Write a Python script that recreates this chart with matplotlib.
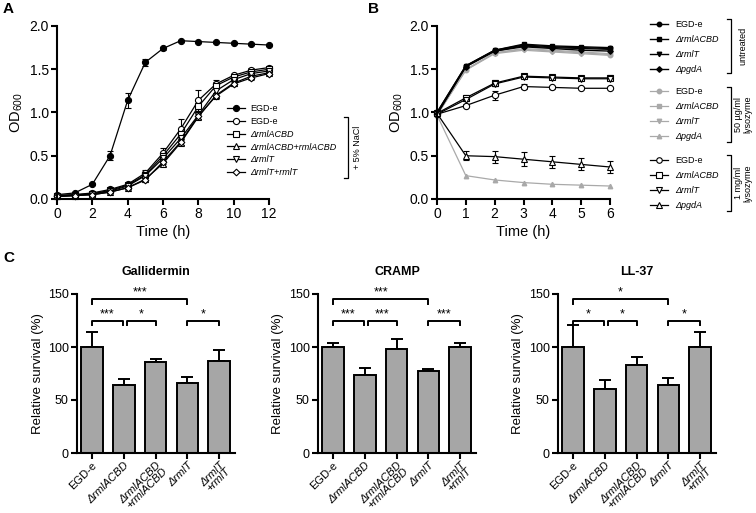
import matplotlib
matplotlib.use("Agg")
import matplotlib.pyplot as plt
from matplotlib.lines import Line2D
import numpy as np

plt.rcParams['font.family'] = ['Liberation Sans', 'DejaVu Sans']
plt.rcParams['mathtext.fontset'] = 'custom'
plt.rcParams['mathtext.rm'] = 'Liberation Sans'
plt.rcParams['mathtext.it'] = 'Liberation Sans:italic'
plt.rcParams['mathtext.bf'] = 'Liberation Sans:bold'

# ---------------- Data ----------------
# Panel A: growth curves
time_a = [0, 1, 2, 3, 4, 5, 6, 7, 8, 9, 10, 11, 12]
a_labels = ['EGD-e', 'EGD-e', 'ΔrmlACBD', 'ΔrmlACBD+rmlACBD', 'ΔrmlT', 'ΔrmlT+rmlT']
a_egde = [0.05, 0.07, 0.17, 0.50, 1.14, 1.58, 1.74, 1.83, 1.82, 1.81, 1.80, 1.79, 1.78]
a_egde_err = [0.0, 0.0, 0.01, 0.05, 0.09, 0.04, 0.02, 0.01, 0.01, 0.01, 0.01, 0.01, 0.01]
a_nacl_egde = [0.04, 0.05, 0.07, 0.11, 0.17, 0.30, 0.53, 0.81, 1.14, 1.33, 1.43, 1.49, 1.52]
a_nacl_egde_err = [0.0, 0.0, 0.0, 0.01, 0.02, 0.03, 0.06, 0.12, 0.12, 0.05, 0.02, 0.02, 0.02]
a_nacl_acbd = [0.04, 0.05, 0.06, 0.10, 0.16, 0.28, 0.50, 0.75, 1.07, 1.31, 1.41, 1.47, 1.50]
a_nacl_acbd_err = [0.0, 0.0, 0.0, 0.01, 0.02, 0.02, 0.04, 0.05, 0.06, 0.04, 0.02, 0.02, 0.02]
a_nacl_acbd_c = [0.03, 0.04, 0.05, 0.08, 0.13, 0.23, 0.41, 0.65, 0.95, 1.20, 1.34, 1.42, 1.46]
a_nacl_acbd_c_err = [0.0, 0.0, 0.0, 0.01, 0.01, 0.02, 0.03, 0.03, 0.03, 0.03, 0.02, 0.02, 0.02]
a_nacl_rmlt = [0.03, 0.04, 0.06, 0.09, 0.15, 0.27, 0.47, 0.70, 0.97, 1.25, 1.38, 1.45, 1.48]
a_nacl_rmlt_err = [0.0, 0.0, 0.0, 0.01, 0.01, 0.02, 0.03, 0.04, 0.04, 0.05, 0.02, 0.02, 0.02]
a_nacl_rmlt_c = [0.03, 0.04, 0.05, 0.08, 0.13, 0.22, 0.43, 0.66, 0.96, 1.19, 1.33, 1.40, 1.45]
a_nacl_rmlt_c_err = [0.0, 0.0, 0.0, 0.01, 0.01, 0.02, 0.03, 0.03, 0.03, 0.03, 0.02, 0.02, 0.02]

# Panel B: lysozyme treatment
time_b = [0, 1, 2, 3, 4, 5, 6]
b_strains = ['EGD-e', 'ΔrmlACBD', 'ΔrmlT', 'ΔpgdA']
b_untreated = [
    [1.00, 1.54, 1.72, 1.78, 1.76, 1.75, 1.74],
    [1.00, 1.54, 1.72, 1.79, 1.77, 1.76, 1.75],
    [0.98, 1.53, 1.71, 1.77, 1.75, 1.74, 1.73],
    [0.98, 1.53, 1.71, 1.76, 1.74, 1.72, 1.71],
]
b_50ug = [
    [0.97, 1.49, 1.69, 1.73, 1.71, 1.69, 1.67],
    [0.97, 1.50, 1.69, 1.74, 1.72, 1.70, 1.68],
    [0.97, 1.49, 1.68, 1.72, 1.70, 1.68, 1.66],
    [0.97, 0.27, 0.22, 0.19, 0.17, 0.16, 0.15],
]
b_1mg = [
    [0.98, 1.08, 1.20, 1.30, 1.29, 1.28, 1.28],
    [0.99, 1.17, 1.34, 1.42, 1.41, 1.40, 1.40],
    [0.98, 1.15, 1.33, 1.41, 1.40, 1.39, 1.39],
    [0.99, 0.50, 0.49, 0.46, 0.43, 0.40, 0.37],
]
b_1mg_err = [
    [0.0, 0.02, 0.05, 0.03, 0.02, 0.01, 0.01],
    [0.0, 0.03, 0.03, 0.01, 0.01, 0.01, 0.03],
    [0.0, 0.02, 0.02, 0.01, 0.01, 0.01, 0.02],
    [0.0, 0.05, 0.07, 0.08, 0.07, 0.07, 0.07],
]

# Panel C: relative survival
c_categories = ['EGD-e', 'ΔrmlACBD', 'ΔrmlACBD\n+rmlACBD', 'ΔrmlT', 'ΔrmlT\n+rmlT']
c_titles = ['Gallidermin', 'CRAMP', 'LL-37']
c_means = [
    [100, 64, 86, 66, 87],
    [100, 74, 98, 77, 100],
    [100, 60, 83, 64, 100],
]
c_errs = [
    [14, 6, 3, 6, 10],
    [4, 6, 10, 2, 4],
    [21, 9, 8, 7, 14],
]
c_sig = [
    ['***', '***', '*', '*'],
    ['***', '***', '***', '***'],
    ['*', '*', '*', '*'],
]

# ---------------- Figure ----------------
W, H = 756, 513
fig = plt.figure(figsize=(W / 100, H / 100), dpi=100)


def px_axes(x0, y0, x1, y1):
    return fig.add_axes([x0 / W, 1 - y1 / H, (x1 - x0) / W, (y1 - y0) / H])


def style_axes(ax, lw=1.5, labelsize=10):
    for s in ['top', 'right']:
        ax.spines[s].set_visible(False)
    for s in ['left', 'bottom']:
        ax.spines[s].set_linewidth(lw)
    ax.tick_params(width=lw, length=4, direction='out', labelsize=labelsize, pad=2)


def fig_bracket(x, y0, y1, w=4):
    fig.add_artist(Line2D([x - w, x, x, x - w], [H - y0, H - y0, H - y1, H - y1],
                          transform=None, color='black', lw=0.9))


def italicize(texts):
    for t in texts:
        if t.get_text() != 'EGD-e':
            t.set_fontstyle('italic')


# ---------------- Panel A ----------------
axA = px_axes(57, 26, 269, 199)
style_axes(axA)
ms = 4.4
series_a = [
    (a_egde, a_egde_err, 'o', 'black'),
    (a_nacl_egde, a_nacl_egde_err, 'o', 'white'),
    (a_nacl_acbd, a_nacl_acbd_err, 's', 'white'),
    (a_nacl_acbd_c, a_nacl_acbd_c_err, '^', 'white'),
    (a_nacl_rmlt, a_nacl_rmlt_err, 'v', 'white'),
    (a_nacl_rmlt_c, a_nacl_rmlt_c_err, 'D', 'white'),
]
handles_a = []
for (y, e, m, fc), lab in zip(series_a, a_labels):
    msz = ms - 1.0 if m == 'D' else ms
    axA.errorbar(time_a, y, yerr=e, marker=m, ms=msz, mfc=fc, mec='black', mew=0.8,
                 color='black', lw=0.9, elinewidth=0.8, capsize=2, capthick=0.8,
                 clip_on=False)
    handles_a.append(Line2D([], [], marker=m, ms=msz, mfc=fc, mec='black', mew=0.8,
                            color='black', lw=0.9))
axA.set_xlim(0, 12)
axA.set_ylim(0, 2.0)
axA.set_xticks([0, 2, 4, 6, 8, 10, 12])
axA.set_yticks([0, 0.5, 1.0, 1.5, 2.0])
axA.set_yticklabels(['0.0', '0.5', '1.0', '1.5', '2.0'])
axA.set_xlabel('Time (h)', fontsize=10.5, labelpad=3)
axA.set_ylabel('OD$_{600}$', fontsize=10.5, labelpad=3)
legA = axA.legend(handles=handles_a, labels=a_labels, loc='upper left',
                  bbox_to_anchor=(0.80, 0.548), frameon=False, fontsize=6.5,
                  handlelength=2.0, handletextpad=0.6, labelspacing=0.42,
                  borderpad=0, borderaxespad=0)
italicize(legA.get_texts())
fig_bracket(348, 117, 178)
fig.text(357 / W, 1 - 147 / H, '+ 5% NaCl', rotation=90, ha='center', va='center', fontsize=6.5)

# ---------------- Panel B ----------------
axB = px_axes(437, 26, 610, 199)
style_axes(axB)
grey = '#a9a9a9'
mk_untr = ['o', 's', 'v', 'D']
mk_50 = ['o', 's', 'v', '^']
mk_1mg = ['o', 's', 'v', '^']
h_untr, h_50, h_1mg = [], [], []
for i in range(4):
    axB.plot(time_b, b_50ug[i], marker=mk_50[i], ms=3.2, color=grey, mfc=grey, mec=grey,
             lw=0.9, clip_on=False)
    h_50.append(Line2D([], [], marker=mk_50[i], ms=3.2, color=grey, mfc=grey, mec=grey, lw=0.9))
for i in range(4):
    msz = 3.2 if mk_untr[i] != 'D' else 2.8
    axB.plot(time_b, b_untreated[i], marker=mk_untr[i], ms=msz, color='black', mfc='black',
             mec='black', lw=1.0, clip_on=False)
    h_untr.append(Line2D([], [], marker=mk_untr[i], ms=msz, color='black', mfc='black',
                         mec='black', lw=1.0))
for i in range(4):
    axB.errorbar(time_b, b_1mg[i], yerr=b_1mg_err[i], marker=mk_1mg[i], ms=4.5, mfc='white',
                 mec='black', mew=0.8, color='black', lw=0.9, elinewidth=0.8, capsize=2.5,
                 capthick=0.8, clip_on=False)
    h_1mg.append(Line2D([], [], marker=mk_1mg[i], ms=4.0, mfc='white', mec='black', mew=0.8,
                        color='black', lw=0.9))
axB.set_xlim(0, 6)
axB.set_ylim(0, 2.0)
axB.set_xticks(time_b)
axB.set_yticks([0, 0.5, 1.0, 1.5, 2.0])
axB.set_yticklabels(['0.0', '0.5', '1.0', '1.5', '2.0'])
axB.set_xlabel('Time (h)', fontsize=10.5, labelpad=3)
axB.set_ylabel('OD$_{600}$', fontsize=10.5, labelpad=3)

group_tops = [20, 87, 156]
group_names = ['untreated', '50 µg/ml\nlysozyme', '1 mg/ml\nlysozyme']
group_br = [(19, 73), (87, 142), (155, 211)]
for hs, top in zip([h_untr, h_50, h_1mg], group_tops):
    lg = fig.legend(handles=hs, labels=b_strains, loc='upper left',
                    bbox_to_anchor=(650 / W, 1 - top / H), frameon=False, fontsize=6.5,
                    handlelength=2.0, handletextpad=0.8, labelspacing=0.66,
                    borderpad=0, borderaxespad=0)
    italicize(lg.get_texts())
for (y0, y1), name in zip(group_br, group_names):
    fig_bracket(731, y0, y1)
    fig.text(743 / W, 1 - (y0 + y1) / 2 / H, name, rotation=90, ha='center', va='center',
             fontsize=6.5, linespacing=1.0)

# ---------------- Panel C ----------------
c_left = [77, 318, 558]
x = np.arange(len(c_categories))
for k in range(3):
    ax = px_axes(c_left[k], 294, c_left[k] + 158, 453)
    style_axes(ax, labelsize=9)
    ax.tick_params(axis='x', pad=1)
    ax.bar(x, c_means[k], width=0.68, color='#a6a6a6', edgecolor='black', linewidth=1.4,
           zorder=2)
    ax.errorbar(x, c_means[k], yerr=[np.zeros(5), c_errs[k]], fmt='none', ecolor='black',
                elinewidth=1.4, capsize=4, capthick=1.4, zorder=1)
    ax.set_xlim(-0.47, 4.5)
    ax.set_ylim(0, 150)
    ax.set_yticks([0, 50, 100, 150])
    ax.set_xticks(x)
    ax.set_xticklabels(c_categories, rotation=45, ha='right', rotation_mode='anchor',
                       fontsize=8, linespacing=0.85)
    italicize(ax.get_xticklabels())
    ax.set_ylabel('Relative survival (%)', fontsize=9.5, labelpad=3)
    ax.set_title(c_titles[k], fontsize=9, fontweight='bold', pad=14)
    # significance brackets
    brk = [(0, 3, 145, 141), (0, 0.97, 125, 121), (1.1, 2, 125, 121), (3, 4, 125, 121)]
    for (xa, xb, yt, yb), s in zip(brk, c_sig[k]):
        ax.plot([xa, xa, xb, xb], [yb, yt, yt, yb], color='black', lw=1.4, clip_on=False)
        ax.text((xa + xb) / 2, yt + 0.5, s, ha='center', va='bottom', fontsize=9)

# Panel letters
fig.text(3 / W, 1 - 2 / H, 'A', fontsize=11, fontweight='bold', va='top', ha='left')
fig.text(368 / W, 1 - 2 / H, 'B', fontsize=11, fontweight='bold', va='top', ha='left')
fig.text(3 / W, 1 - 251 / H, 'C', fontsize=11, fontweight='bold', va='top', ha='left')

fig.savefig('out.png', dpi=100)
